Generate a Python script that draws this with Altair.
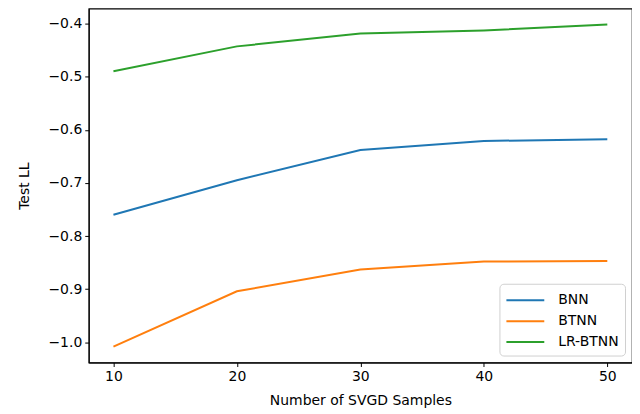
import altair as alt
import pandas as pd

samples = [10, 20, 30, 40, 50]
bnn = [-0.760, -0.695, -0.638, -0.621, -0.618]
btnn = [-1.008, -0.904, -0.863, -0.848, -0.847]
lr_btnn = [-0.490, -0.443, -0.419, -0.413, -0.402]
series = ["BNN", "BTNN", "LR-BTNN"]
colors = ["#1f77b4", "#ff7f0e", "#2ca02c"]

rows = []
for name, vals in zip(series, [bnn, btnn, lr_btnn]):
    for s, v in zip(samples, vals):
        rows.append({"samples": s, "ll": v, "model": name})
df = pd.DataFrame(rows)

font = "DejaVu Sans"

chart = alt.Chart(df).mark_line(strokeWidth=2).encode(
    x=alt.X("samples:Q", title="Number of SVGD Samples",
            scale=alt.Scale(domain=[8, 52], nice=False, zero=False),
            axis=alt.Axis(values=samples, format="d", grid=False, titlePadding=10)),
    y=alt.Y("ll:Q", title="Test LL",
            scale=alt.Scale(domain=[-1.038, -0.372], nice=False, zero=False),
            axis=alt.Axis(values=[-1.0, -0.9, -0.8, -0.7, -0.6, -0.5, -0.4],
                          format=".1f", grid=False, titlePadding=16)),
    color=alt.Color("model:N", title=None,
                    scale=alt.Scale(domain=series, range=colors),
                    legend=alt.Legend(orient="bottom-right", offset=7,
                                      symbolType="M-1,0L3,0", symbolSize=361,
                                      symbolStrokeWidth=2, labelFontSize=14,
                                      labelFont=font, labelColor="black",
                                      strokeColor="#d0d0d0", cornerRadius=4,
                                      padding=6, rowPadding=3, labelOffset=32,
                                      fillColor="white")),
).properties(
    width=545, height=355,
    autosize=alt.AutoSizeParams(type="none"),
    padding={"left": 81, "top": 0, "right": 0, "bottom": 50},
).configure_view(
    stroke="black", strokeWidth=1.2
).configure_axis(
    domainColor="black", tickColor="black", tickSize=4, labelColor="black",
    titleColor="black", labelFont=font, titleFont=font, labelFontSize=14,
    titleFontSize=14, titleFontWeight="normal", labelPadding=3,
)

chart.save("out.html", embed_options={"renderer": "svg", "actions": False})
